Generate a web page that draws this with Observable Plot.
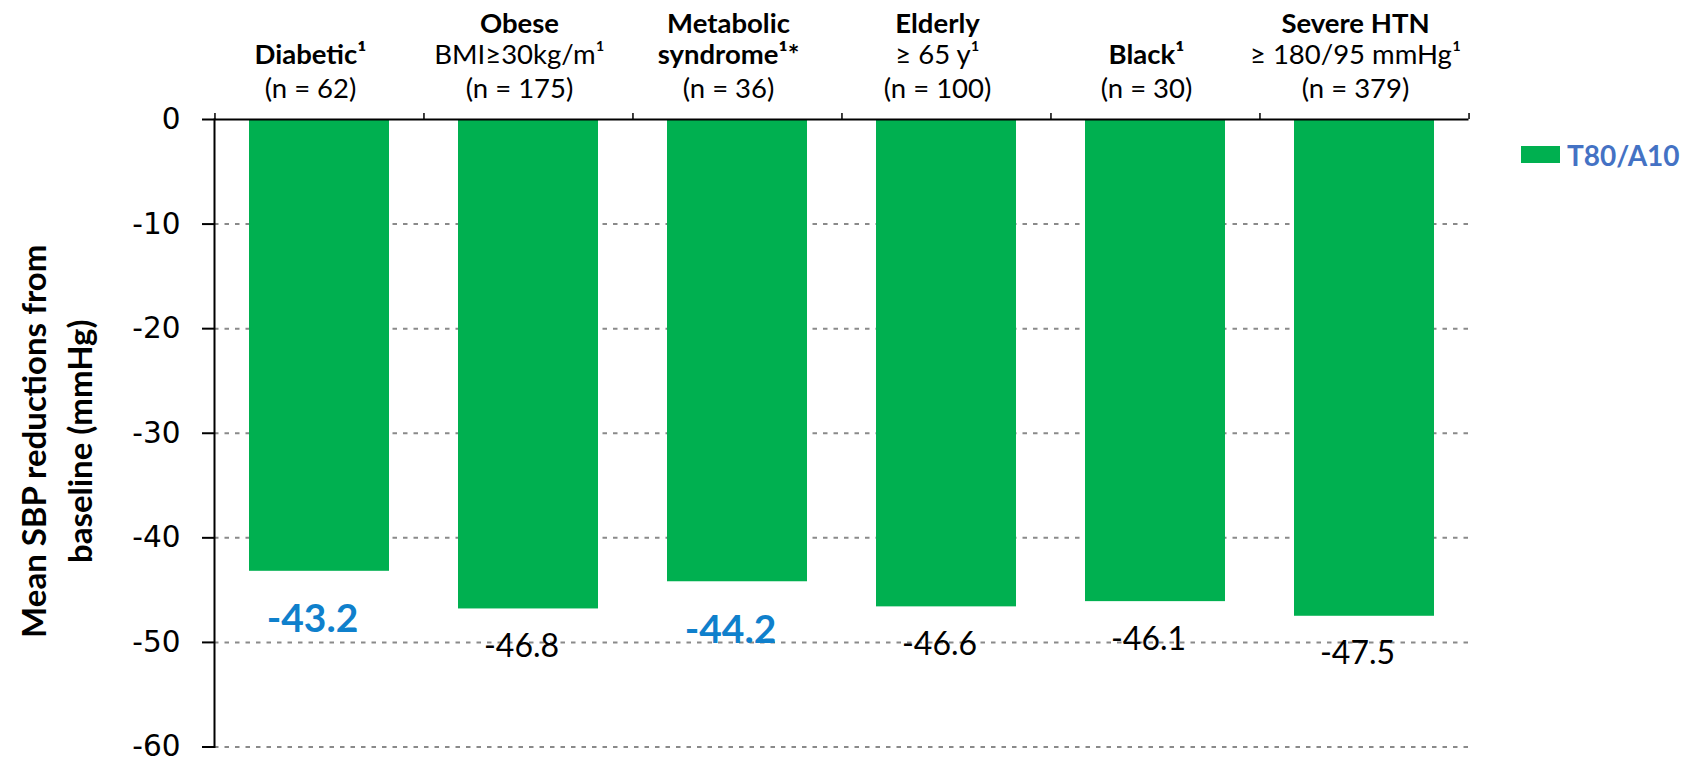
<!DOCTYPE html>
<html>
<head>
<meta charset="utf-8">
<script src="https://cdn.jsdelivr.net/npm/d3@7"></script>
<script src="https://cdn.jsdelivr.net/npm/@observablehq/plot@0.6"></script>
<style>
  html, body { margin: 0; padding: 0; background: #fff; }
  #chart { position: relative; width: 1707px; height: 760px; }
  #legend {
    position: absolute; left: 1521px; top: 137.5px;
    display: flex; align-items: center;
    font-family: Lato, "Open Sans", sans-serif; font-weight: 700;
    font-size: 28px; line-height: 34px; color: #4472C4;
  }
  #legend .swatch { width: 39px; height: 17px; background: #00B050; margin-right: 7px; }
</style>
</head>
<body>
<div id="chart">
  <div id="legend"><span class="swatch"></span><span>T80/A10</span></div>
</div>
<script>
// Patient subgroups and mean SBP change from baseline (mmHg)
const groups = ["Diabetic", "Obese", "Metabolic syndrome", "Elderly", "Black", "Severe HTN"];
const sbpReduction = [-43.2, -46.8, -44.2, -46.6, -46.1, -47.5];
const sampleSizes = [62, 175, 36, 100, 30, 379];
const highlighted = [true, false, true, false, false, false];

// Category header text, three rows per group
const headerRow1 = ["", "Obese", "Metabolic", "Elderly", "", "Severe HTN"];
const headerRow2 = ["Diabetic¹", "BMI≥30kg/m¹", "syndrome¹*", "≥ 65 y¹", "Black¹", "≥ 180/95 mmHg¹"];
const row2Bold = [true, false, true, false, true, false];

// Y axis ticks and title
const yTicks = [0, -10, -20, -30, -40, -50, -60];
const yTitle = "Mean SBP reductions from\nbaseline (mmHg)";

const green = "#00B050";
const blue = "#0f80cc";

const data = groups.map((g, i) => ({group: g, value: sbpReduction[i], highlight: highlighted[i]}));
const header = groups.map((g, i) => ({
  group: g,
  row1: headerRow1[i],
  row2: headerRow2[i],
  bold2: row2Bold[i],
  row3: `(n = ${sampleSizes[i]})`
}));

const marginTop = 119, marginBottom = 13.5, marginLeft = 214, marginRight = 238.5;
const step = (1707 - marginLeft - marginRight) / groups.length;
const headerFont = {fontSize: 27.5, dx: -9, frameAnchor: "top", lineAnchor: "bottom"};

const chart = Plot.plot({
  width: 1707,
  height: 760,
  marginTop, marginBottom, marginLeft, marginRight,
  style: {fontFamily: "Lato, 'Open Sans', sans-serif", color: "black", background: "white", overflow: "visible"},
  x: {domain: groups, paddingInner: 0.33, paddingOuter: 0.165, axis: null},
  y: {domain: [-60, 0]},
  marks: [
    // dotted gridlines
    Plot.ruleY(yTicks.filter(v => v !== 0), {stroke: "#8a8a8a", strokeWidth: 2, strokeDasharray: "4.5,6"}),
    // bars
    Plot.barY(data, {x: "group", y: "value", fill: green}),
    // zero baseline
    Plot.ruleY([0], {stroke: "black", strokeWidth: 2}),
    // category separators above the baseline
    Plot.ruleX(groups, {x: d => d, y1: () => 0, y2: () => 0, insetTop: -6, dx: -step / 2, stroke: "black", strokeWidth: 1.5}),
    Plot.ruleX(groups.slice(-1), {x: d => d, y1: () => 0, y2: () => 0, insetTop: -6, dx: step / 2, stroke: "black", strokeWidth: 1.5}),
    // vertical axis line
    Plot.frame({anchor: "left", stroke: "black", strokeWidth: 2}),
    Plot.axisY(yTicks, {
      anchor: "left", label: null, tickSize: 12, tickPadding: 22,
      fontSize: 29.5, fontFamily: "'DejaVu Sans', sans-serif",
      tickFormat: d => String(d), stroke: "black", strokeWidth: 2
    }),
    // value labels
    Plot.text(data.filter(d => !d.highlight), {
      x: "group", y: "value", text: d => d.value.toFixed(1),
      lineAnchor: "bottom", dy: 48, dx: -7, fontSize: 32, fill: "black"
    }),
    Plot.text(data.filter(d => d.highlight), {
      x: "group", y: "value", text: d => d.value.toFixed(1),
      lineAnchor: "bottom", dy: 61, dx: -7, fontSize: 39, fontWeight: "bold", fill: blue
    }),
    // category headers
    Plot.text(header, {x: "group", text: "row1", dy: 32 - marginTop, fontWeight: "bold", ...headerFont}),
    Plot.text(header.filter(d => d.bold2), {x: "group", text: "row2", dy: 63.5 - marginTop, fontWeight: "bold", ...headerFont}),
    Plot.text(header.filter(d => !d.bold2), {x: "group", text: "row2", dy: 63.5 - marginTop, ...headerFont}),
    Plot.text(header, {x: "group", text: "row3", dy: 97 - marginTop, ...headerFont}),
    // y axis title
    Plot.text([yTitle], {
      text: d => d, frameAnchor: "left", textAnchor: "middle", rotate: -90,
      dx: 53.4 - marginLeft, dy: 8,
      fontSize: 33, fontWeight: "bold", lineHeight: 1.415
    })
  ]
});

document.getElementById("chart").prepend(chart);
</script>
</body>
</html>
